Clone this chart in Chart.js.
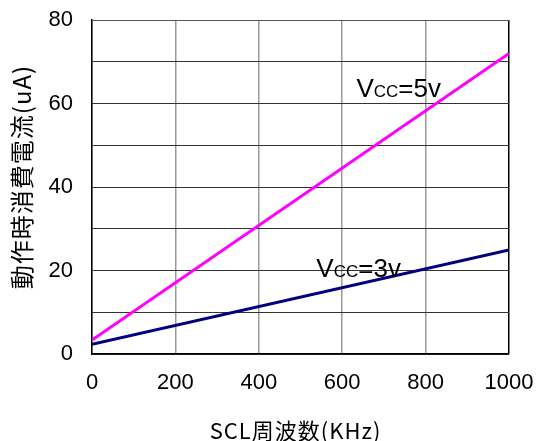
<!DOCTYPE html>
<html>
<head>
<meta charset="utf-8">
<script src="https://cdn.jsdelivr.net/npm/chart.js@4.4.1/dist/chart.umd.min.js"></script>
<style>
  html, body { margin: 0; padding: 0; background: #fff; }
  #wrap { width: 537px; height: 441px; }
</style>
</head>
<body>
<div id="wrap"><canvas id="chart" width="537" height="441"></canvas></div>
<script>
// SCL frequency (kHz) vs. operating current (uA)
const freqKHz = [0, 1000];
const current5v = [3.35, 72.0];
const current3v = [2.3, 24.9];
const seriesNames = ['5v', '3v'];
const xTicks = [0, 200, 400, 600, 800, 1000];
const yTicks = [0, 20, 40, 60, 80];
const xTitle = 'SCL周波数(KHz)';
const yTitle = '動作時消費電流(uA)';

const FONT = "'Liberation Sans', Arial, 'Noto Sans CJK JP', sans-serif";
const JP_FONT = "'Noto Sans CJK JP', 'Liberation Sans', sans-serif";

// "Vcc=..." annotations next to each line, placed in data units
const lineLabels = [
  { x: 634, y: 61.6, volt: seriesNames[0] },
  { x: 538, y: 18.5, volt: seriesNames[1] },
];

const vccLabels = {
  id: 'vccLabels',
  afterDatasetsDraw(chart) {
    const { ctx, scales } = chart;
    ctx.save();
    ctx.fillStyle = '#000';
    ctx.textBaseline = 'alphabetic';
    ctx.textAlign = 'left';
    lineLabels.forEach(l => {
      let px = scales.x.getPixelForValue(l.x);
      const py = scales.y.getPixelForValue(l.y);
      ctx.font = `26px ${FONT}`;
      ctx.fillText('V', px, py);
      px += ctx.measureText('V').width;
      ctx.font = `17px ${FONT}`;
      ctx.fillText('CC', px, py);
      px += ctx.measureText('CC').width;
      ctx.font = `26px ${FONT}`;
      ctx.fillText('=' + l.volt, px, py);
    });
    ctx.restore();
  }
};

// axis titles drawn by hand so the letter spacing can be set
const axisTitles = {
  id: 'axisTitles',
  afterDraw(chart) {
    const { ctx, chartArea } = chart;
    ctx.save();
    ctx.fillStyle = '#000';
    ctx.textAlign = 'center';
    ctx.textBaseline = 'middle';
    ctx.font = `22px ${JP_FONT}`;
    ctx.letterSpacing = '1px';
    ctx.fillText(xTitle, (chartArea.left + chartArea.right) / 2 - 5, 431);
    ctx.translate(21.5, (chartArea.top + chartArea.bottom) / 2 - 10);
    ctx.rotate(-Math.PI / 2);
    ctx.font = `24px ${JP_FONT}`;
    ctx.letterSpacing = '1px';
    ctx.fillText(yTitle, 0, 0);
    ctx.restore();
  }
};

const zeroPad = s => { s.paddingLeft = 0; s.paddingRight = 0; s.paddingTop = 0; s.paddingBottom = 0; };

new Chart(document.getElementById('chart'), {
  type: 'line',
  data: {
    datasets: [
      { label: 'Vcc=5v', data: freqKHz.map((f, i) => ({ x: f, y: current5v[i] })), borderColor: '#ff00ff', borderWidth: 3, pointRadius: 0, tension: 0 },
      { label: 'Vcc=3v', data: freqKHz.map((f, i) => ({ x: f, y: current3v[i] })), borderColor: '#000080', borderWidth: 3, pointRadius: 0, tension: 0 },
    ]
  },
  options: {
    responsive: false,
    animation: false,
    layout: { padding: { left: 0, top: 20, right: 28, bottom: 0 } },
    plugins: { legend: { display: false }, tooltip: { enabled: false } },
    scales: {
      x: {
        type: 'linear', min: 0, max: 1000,
        afterBuildTicks: s => { s.ticks = xTicks.map(v => ({ value: v })); },
        afterFit: s => { s.height = 87; zeroPad(s); },
        ticks: { color: '#000', padding: 16, maxRotation: 0, font: { size: 22, family: FONT }, callback: v => String(v) },
        grid: {
          drawTicks: false,
          lineWidth: 1.5,
          color: c => (c.tick.value === 1000 ? '#000' : '#9a9a9a')
        },
        border: { display: true, color: '#000', width: 1.5 }
      },
      y: {
        min: 0, max: 80,
        afterBuildTicks: s => {
          const t = [];
          for (let v = 0; v <= 80; v += 10) t.push({ value: v });
          s.ticks = t;
        },
        afterFit: s => { s.width = 92; zeroPad(s); },
        ticks: {
          color: '#000', padding: 19, font: { size: 22, family: FONT },
          callback: v => (yTicks.includes(v) ? String(v) : '')
        },
        grid: {
          drawTicks: false,
          lineWidth: 1,
          color: c => (c.tick.value === 80 ? '#555' : '#333')
        },
        border: { display: true, color: '#000', width: 1.5 }
      }
    }
  },
  plugins: [vccLabels, axisTitles]
});
</script>
</body>
</html>
